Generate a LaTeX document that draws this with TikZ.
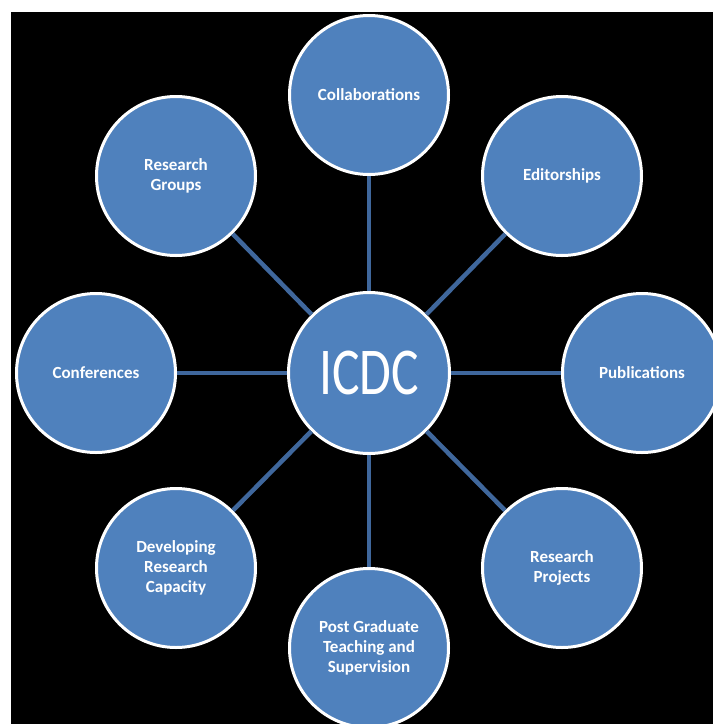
\documentclass[tikz,border=0pt]{standalone}
\usepackage{fontspec}
\setmainfont{Carlito}
\usepackage{tikz}
\usetikzlibrary{positioning}
\definecolor{hubBlue}{HTML}{4F81BD}
\definecolor{spokeBlue}{HTML}{3F679C}

\begin{document}
\begin{tikzpicture}[x=1pt, y=-1pt,
    topic/.style={circle, draw=white, line width=3pt, fill=hubBlue, text=white,
        minimum size=159pt, inner sep=0pt, align=center,
        font=\bfseries\fontsize{17}{20}\selectfont},
    hub/.style={topic, minimum size=161pt, font=\fontsize{67}{67}\selectfont},
    spoke/.style={spokeBlue, line width=4.5pt}]
    \useasboundingbox (0,0) rectangle (713,724);
    \fill[white] (0,0) rectangle (713,724);
    \fill[black] (11,12) rectangle (713,724);
    % centre and the eight topics round it
    \node[hub] (icdc) at (369,373) {\scalebox{0.77}[1]{ICDC}};
    \node[topic] (collab) at (369,95) {Collaborations};
    \node[topic] (editor) at (562,176) {Editorships};
    \node[topic] (pubs) at (642,373) {Publications};
    \node[topic] (projects) at (562,568) {Research\\Projects};
    \node[topic] (postgrad) at (369,648) {Post Graduate\\Teaching and\\Supervision};
    \node[topic] (capacity) at (176,568) {Developing\\Research\\Capacity};
    \node[topic] (confs) at (96,373) {Conferences};
    \node[topic] (groups) at (176,176) {Research\\Groups};
    % spokes
    \draw[spoke] (icdc) -- (collab);
    \draw[spoke] (icdc) -- (editor);
    \draw[spoke] (icdc) -- (pubs);
    \draw[spoke] (icdc) -- (projects);
    \draw[spoke] (icdc) -- (postgrad);
    \draw[spoke] (icdc) -- (capacity);
    \draw[spoke] (icdc) -- (confs);
    \draw[spoke] (icdc) -- (groups);
\end{tikzpicture}
\end{document}
